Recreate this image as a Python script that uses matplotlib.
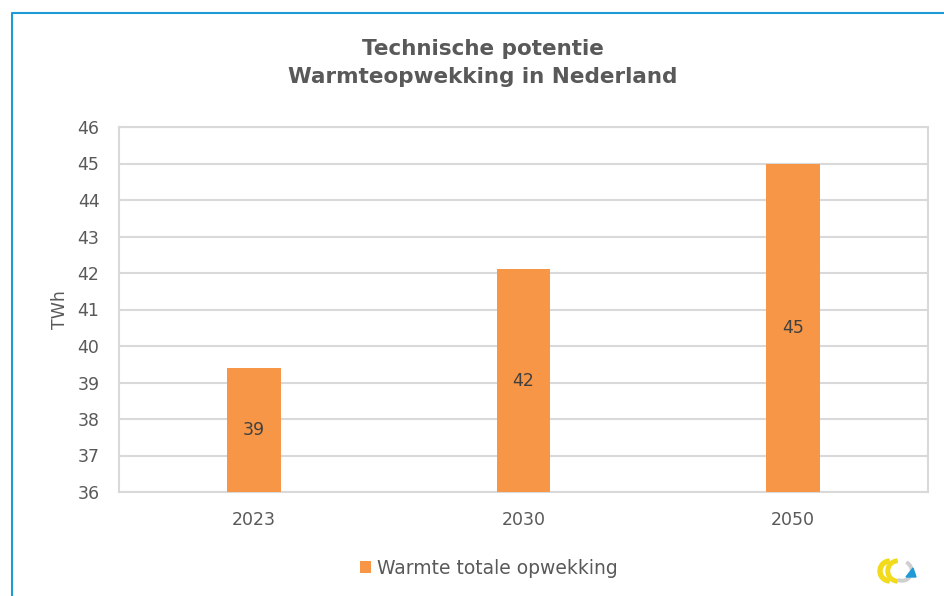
import matplotlib.pyplot as plt
from matplotlib.patches import Wedge, Polygon

# data
years = ['2023', '2030', '2050']
warmte = [39.4, 42.1, 45.0]
series_name = 'Warmte totale opwekking'
y_ticks = list(range(36, 47))

TEXT = '#595959'
GRID = '#d9d9d9'
ORANGE = '#F79646'

plt.rcParams['font.family'] = ['DejaVu Sans']

fig = plt.figure(figsize=(9.44, 5.96), dpi=100)
ax = fig.add_axes([119 / 944, 1 - 492 / 596, (928 - 119) / 944, (492 - 127) / 596])

x = range(len(years))
bars = ax.bar(x, warmte, width=0.2, color=ORANGE, zorder=3, label=series_name)

# labels in the middle of each bar (Excel style "center")
for i, v in enumerate(warmte):
    ax.text(i, (v + 36) / 2, '{:d}'.format(int(v)), ha='center', va='center',
            fontsize=12.5, color='#404040', zorder=4)

ax.set_ylim(36, 46)
ax.set_xlim(-0.5, len(years) - 0.5)
ax.set_yticks(y_ticks)
ax.set_xticks(list(x))
ax.set_xticklabels(years)
ax.tick_params(length=0, labelsize=12.5, labelcolor=TEXT)
ax.tick_params(axis='y', pad=14)
ax.tick_params(axis='x', pad=14)
ax.yaxis.grid(True, color=GRID, linewidth=1.5, zorder=0)
for s in ax.spines.values():
    s.set_color(GRID)
    s.set_linewidth(1.5)

ax.set_ylabel('TWh', fontsize=12.5, color=TEXT, labelpad=6)

fig.text(483 / 944, 1 - 63 / 596, 'Technische potentie\nWarmteopwekking in Nederland',
         ha='center', va='center', fontsize=15.5, fontweight='bold', color=TEXT,
         linespacing=1.5)

leg = fig.legend(handles=[bars], labels=[series_name], loc='center',
                 bbox_to_anchor=(489 / 944, 1 - 568 / 596), frameon=False,
                 fontsize=13.5, handlelength=0.55, handleheight=0.55, handletextpad=0.35)
for t in leg.get_texts():
    t.set_color(TEXT)

# blue frame along top and left edges
fig.add_artist(plt.Line2D([11.5 / 944, 11.5 / 944, 1], [0, 1 - 12.5 / 596, 1 - 12.5 / 596],
                          color='#1E9BD7', linewidth=1.5, transform=fig.transFigure))

# small logo, bottom right
logo = fig.add_axes([877 / 944, 1 - 585 / 596, 40 / 944, 28 / 596])
logo.set_xlim(0, 40)
logo.set_ylim(0, 28)
logo.axis('off')
logo.add_patch(Wedge((13, 14), 12, 95, 265, width=4, color='#F2DB1C'))
logo.add_patch(Wedge((21, 14), 12, 95, 265, width=3.5, color='#F2DB1C'))
logo.add_patch(Wedge((25, 14), 11, 250, 60, width=2.5, color='#cfcfcf'))
logo.add_patch(Polygon([[29, 8], [39, 8], [36, 17]], color='#1E9BD7'))

fig.savefig('out.png', dpi=100)
